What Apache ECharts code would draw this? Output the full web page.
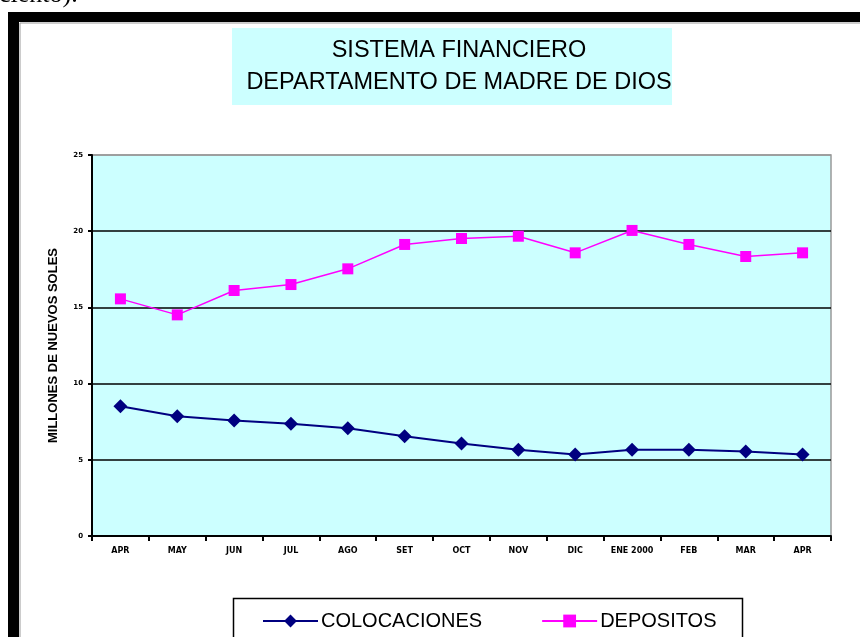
<!DOCTYPE html>
<html>
<head>
<meta charset="utf-8">
<script src="https://cdn.jsdelivr.net/npm/echarts@6/dist/echarts.min.js"></script>
<style>
  html, body { margin: 0; padding: 0; background: #fff; }
  #chart { width: 860px; height: 637px; }
</style>
</head>
<body>
<div id="chart"></div>
<script>
// meses del periodo
const months = ['APR', 'MAY', 'JUN', 'JUL', 'AGO', 'SET', 'OCT', 'NOV', 'DIC', 'ENE 2000', 'FEB', 'MAR', 'APR']
// millones de nuevos soles
const colocaciones = [8.52, 7.86, 7.58, 7.36, 7.07, 6.55, 6.07, 5.66, 5.35, 5.66, 5.66, 5.54, 5.35]
const depositos = [15.56, 14.51, 16.11, 16.5, 17.53, 19.13, 19.52, 19.67, 18.58, 20.05, 19.13, 18.34, 18.58]
const yTicks = [0, 5, 10, 15, 20, 25]

const chart = echarts.init(document.getElementById('chart'))
chart.setOption({
  backgroundColor: '#fff',
  animation: false,
  title: {
    text: 'SISTEMA FINANCIERO\nDEPARTAMENTO DE MADRE DE DIOS',
    left: 454,
    top: 30,
    textAlign: 'center',
    textStyle: {
      fontFamily: 'Liberation Sans',
      fontWeight: 'normal',
      fontSize: 23.5,
      lineHeight: 32,
      color: '#000'
    }
  },
  legend: {
    left: 257,
    top: 606,
    itemWidth: 55,
    itemHeight: 16,
    itemGap: 59,
    data: ['COLOCACIONES', 'DEPOSITOS'],
    textStyle: {
      fontFamily: 'Liberation Sans',
      fontSize: 20,
      color: '#000',
      padding: [0, 0, 0, -2]
    }
  },
  grid: {
    left: 92,
    right: 29,
    top: 155,
    bottom: 101,
    show: true,
    backgroundColor: '#ccffff',
    borderColor: '#999',
    borderWidth: 1.5
  },
  xAxis: {
    type: 'category',
    data: months,
    axisLine: { lineStyle: { color: '#000', width: 2 } },
    axisTick: { show: true, interval: 0, length: 5, lineStyle: { color: '#000', width: 2 } },
    axisLabel: {
      interval: 0,
      margin: 11,
      fontFamily: 'DejaVu Sans',
      fontWeight: 'bold',
      fontSize: 8,
      color: '#000'
    }
  },
  yAxis: {
    type: 'value',
    min: yTicks[0],
    max: yTicks[yTicks.length - 1],
    interval: 5,
    name: 'MILLONES DE NUEVOS SOLES',
    nameLocation: 'middle',
    nameRotate: 90,
    nameGap: 32,
    nameTextStyle: {
      fontFamily: 'Liberation Sans',
      fontWeight: 'bold',
      fontSize: 13,
      color: '#000'
    },
    axisLine: { show: true, lineStyle: { color: '#000', width: 2 } },
    axisTick: { show: true, length: 4, lineStyle: { color: '#000', width: 2 } },
    axisLabel: {
      margin: 9,
      fontFamily: 'DejaVu Sans',
      fontWeight: 'bold',
      fontSize: 7,
      color: '#000'
    },
    splitLine: {
      lineStyle: { color: ['#000', '#000', '#000', '#000', '#000', '#999'], width: 1.5 }
    }
  },
  series: [{
    name: 'COLOCACIONES',
    type: 'line',
    data: colocaciones,
    symbol: 'diamond',
    symbolSize: 14,
    color: '#000080',
    lineStyle: { width: 2, color: '#000080' },
    itemStyle: { color: '#000080' }
  }, {
    name: 'DEPOSITOS',
    type: 'line',
    data: depositos,
    symbol: 'rect',
    symbolSize: 11,
    color: '#ff00ff',
    lineStyle: { width: 1.5, color: '#ff00ff' },
    itemStyle: { color: '#ff00ff' }
  }],
  graphic: [
    // recorte de texto del documento
    { type: 'text', left: -1, top: -18, z: 1, style: { text: 'ciento).', font: '26px "Liberation Serif"', fill: '#000' } },
    // marco negro
    { type: 'rect', shape: { x: 8, y: 12, width: 852, height: 10 }, style: { fill: '#000' }, z: 1 },
    { type: 'rect', shape: { x: 8, y: 12, width: 11, height: 625 }, style: { fill: '#000' }, z: 1 },
    { type: 'polyline', shape: { points: [[20, 637], [20, 23], [860, 23]] }, style: { stroke: '#999', lineWidth: 1, fill: null }, z: 1 },
    // caja del titulo
    { type: 'rect', shape: { x: 232, y: 28, width: 440, height: 77 }, style: { fill: '#ccffff' }, z: -1 },
    // caja de la leyenda
    { type: 'rect', shape: { x: 233.5, y: 598.5, width: 509, height: 45 }, style: { fill: '#fff', stroke: '#000', lineWidth: 1.5 }, z: -1 }
  ]
})
</script>
</body>
</html>
